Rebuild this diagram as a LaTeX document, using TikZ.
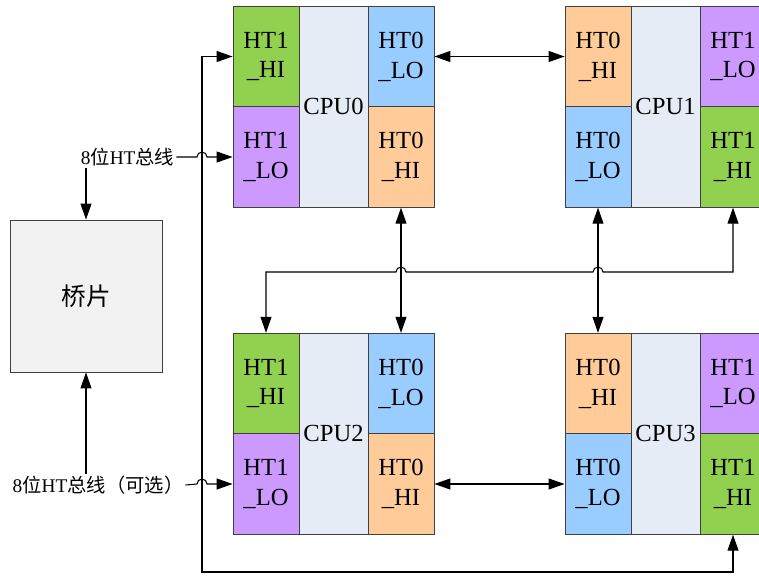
\documentclass[tikz,border=0pt]{standalone}
\usepackage{fontspec}
\setmainfont{Liberation Serif}
\newfontfamily\cjk{Noto Sans CJK SC}
\usetikzlibrary{arrows.meta, calc}

\definecolor{htgreen}{HTML}{92D050}
\definecolor{htpurple}{HTML}{CC99FF}
\definecolor{htblue}{HTML}{99CCFF}
\definecolor{htorange}{HTML}{FFCC99}
\definecolor{corefill}{HTML}{E6ECF6}
\definecolor{bridgefill}{HTML}{F2F2F2}
\definecolor{edge}{HTML}{404040}

\tikzset{
	htcell/.style={draw=edge, line width=0.5pt, inner sep=0pt, align=center,
		minimum width=13.2mm, minimum height=20.1mm, font=\fontsize{14}{17}\selectfont},
	core/.style={draw=edge, line width=0.5pt, fill=corefill, inner sep=0pt,
		minimum width=13.8mm, minimum height=40.2mm, font=\fontsize{14}{17}\selectfont},
	bus/.style={line width=0.6pt, {Triangle[length=3.2mm,width=2.2mm]}-{Triangle[length=3.2mm,width=2.2mm]}},
	busto/.style={line width=0.6pt, -{Triangle[length=3.2mm,width=2.2mm]}},
	buslabel/.style={inner sep=1pt, font=\fontsize{11}{13}\selectfont},
}

\begin{document}
\begin{tikzpicture}[x=0.2mm, y=-0.2mm]
	\useasboundingbox (0,0) rectangle (759,575);

	% CPU0
	\node[core] (c0core) at (333.5,106.5) {CPU0};
	\node[htcell, fill=htgreen] (c0h1hi) at (266,56.5) {HT1\\\_HI};
	\node[htcell, fill=htpurple] (c0h1lo) at (266,157) {HT1\\\_LO};
	\node[htcell, fill=htblue] (c0h0lo) at (401,56.5) {HT0\\\_LO};
	\node[htcell, fill=htorange] (c0h0hi) at (401,157) {HT0\\\_HI};

	% CPU1
	\node[core] (c1core) at (665.5,106.5) {CPU1};
	\node[htcell, fill=htorange] (c1h0hi) at (598,56.5) {HT0\\\_HI};
	\node[htcell, fill=htblue] (c1h0lo) at (598,157) {HT0\\\_LO};
	\node[htcell, fill=htpurple] (c1h1lo) at (733,56.5) {HT1\\\_LO};
	\node[htcell, fill=htgreen] (c1h1hi) at (733,157) {HT1\\\_HI};

	% CPU2
	\node[core] (c2core) at (333.5,433.5) {CPU2};
	\node[htcell, fill=htgreen] (c2h1hi) at (266,383.5) {HT1\\\_HI};
	\node[htcell, fill=htpurple] (c2h1lo) at (266,484) {HT1\\\_LO};
	\node[htcell, fill=htblue] (c2h0lo) at (401,383.5) {HT0\\\_LO};
	\node[htcell, fill=htorange] (c2h0hi) at (401,484) {HT0\\\_HI};

	% CPU3
	\node[core] (c3core) at (665.5,433.5) {CPU3};
	\node[htcell, fill=htorange] (c3h0hi) at (598,383.5) {HT0\\\_HI};
	\node[htcell, fill=htblue] (c3h0lo) at (598,484) {HT0\\\_LO};
	\node[htcell, fill=htpurple] (c3h1lo) at (733,383.5) {HT1\\\_LO};
	\node[htcell, fill=htgreen] (c3h1hi) at (733,484) {HT1\\\_HI};

	% bridge and bus labels
	\node[draw=edge, line width=0.5pt, fill=bridgefill, minimum size=30.4mm,
		font=\fontsize{14}{17}\selectfont] (bridge) at (86,296) {\cjk 桥片};
	\node[buslabel] (lbl1) at (127.5,157) {8{\cjk 位}HT{\cjk 总线}};
	\node[buslabel] (lbl2) at (98,485) {8{\cjk 位}HT{\cjk 总线（可选）}};

	% links between CPUs
	\draw[bus] (c0h0lo.east) -- (c1h0hi.west);
	\draw[bus] (c2h0hi.east) -- (c3h0lo.west);
	\draw[bus] (c0h0hi.south) -- (c2h0lo.north);
	\draw[bus] (c1h0lo.south) -- (c3h0hi.north);

	\coordinate (T1) at (733,272);
	\coordinate (T2) at (266,272);
	\draw[bus] (c1h1hi.south) -- (T1) -- (603,272)
		arc[start angle=0, end angle=180, radius=1mm] -- (406,272)
		arc[start angle=0, end angle=180, radius=1mm] -- (T2) -- (c2h1hi.north);

	\coordinate (J1) at (202,572);
	\draw[bus] (c0h1hi.west) -| (J1) -| (c3h1hi.south);

	% links to the bridge
	\draw[busto] (lbl1.east) -- (197,157)
		arc[start angle=180, end angle=0, radius=1mm] -- (c0h1lo.west);
	\draw[busto] (lbl2.east) -- (197,484)
		arc[start angle=180, end angle=0, radius=1mm] -- (c2h1lo.west);
	\draw[busto] (bridge.north |- lbl1.south) -- (bridge.north);
	\draw[busto] (bridge.south |- lbl2.north) -- (bridge.south);

\end{tikzpicture}
\end{document}
